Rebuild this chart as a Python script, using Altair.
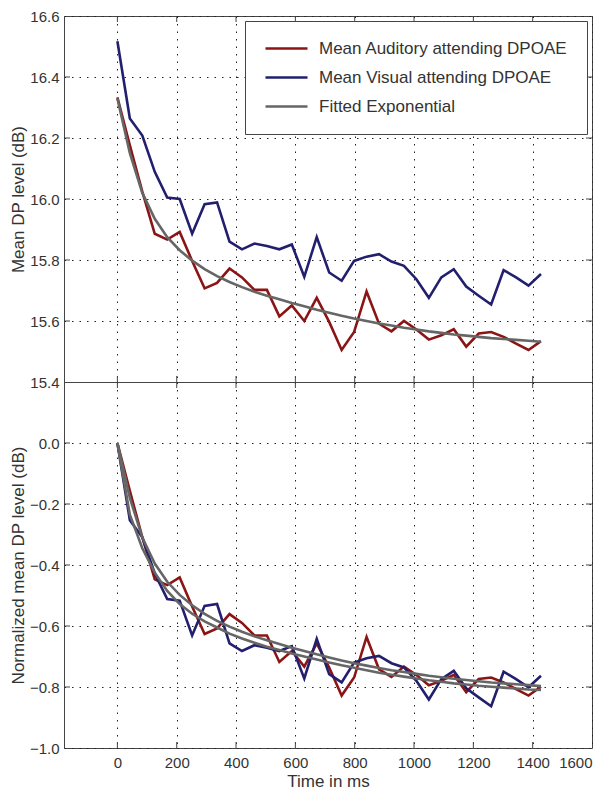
import altair as alt
import pandas as pd

times = [0, 42, 84, 126, 168, 210, 252, 294, 336, 378, 420, 462, 504, 546, 588,
         630, 672, 714, 756, 798, 840, 882, 924, 966, 1008, 1050, 1092, 1134,
         1176, 1218, 1260, 1302, 1344, 1386, 1428]

aud = [16.333, 16.176, 16.024, 15.886, 15.867, 15.892, 15.797, 15.707, 15.725,
       15.772, 15.743, 15.702, 15.702, 15.615, 15.651, 15.600, 15.676, 15.597,
       15.505, 15.564, 15.697, 15.591, 15.566, 15.600, 15.572, 15.539, 15.553,
       15.573, 15.516, 15.559, 15.564, 15.548, 15.526, 15.505, 15.534]

vis = [16.517, 16.264, 16.208, 16.089, 16.005, 16.000, 15.886, 15.983, 15.989,
       15.860, 15.835, 15.854, 15.846, 15.835, 15.851, 15.745, 15.875, 15.759,
       15.732, 15.797, 15.811, 15.819, 15.795, 15.781, 15.737, 15.676, 15.743,
       15.770, 15.713, 15.683, 15.654, 15.767, 15.743, 15.716, 15.754]

fit_top = [16.330, 16.150, 16.020, 15.935, 15.875, 15.832, 15.798, 15.770, 15.747,
           15.728, 15.711, 15.696, 15.683, 15.671, 15.659, 15.648, 15.637, 15.627,
           15.617, 15.608, 15.600, 15.592, 15.585, 15.578, 15.572, 15.566, 15.561,
           15.556, 15.552, 15.548, 15.544, 15.541, 15.538, 15.535, 15.532]

fit_aud_norm = [0.000, -0.180, -0.310, -0.395, -0.455, -0.498, -0.532, -0.560, -0.583,
                -0.602, -0.619, -0.634, -0.647, -0.659, -0.671, -0.682, -0.693, -0.703,
                -0.713, -0.722, -0.730, -0.738, -0.745, -0.751, -0.757, -0.763, -0.768,
                -0.773, -0.777, -0.781, -0.785, -0.788, -0.791, -0.794, -0.797]

fit_vis_norm = [0.000, -0.235, -0.345, -0.425, -0.485, -0.528, -0.560, -0.585, -0.605,
                -0.625, -0.641, -0.655, -0.668, -0.679, -0.690, -0.700, -0.710, -0.720,
                -0.729, -0.737, -0.745, -0.753, -0.760, -0.766, -0.772, -0.778, -0.783,
                -0.788, -0.792, -0.796, -0.799, -0.802, -0.805, -0.808, -0.810]

x_ticks = [0, 200, 400, 600, 800, 1000, 1200, 1400, 1600]
top_ticks = [15.4, 15.6, 15.8, 16.0, 16.2, 16.4, 16.6]
bot_ticks = [-1.0, -0.8, -0.6, -0.4, -0.2, 0.0]

AUD = "Mean Auditory attending DPOAE"
VIS = "Mean Visual attending DPOAE"
FIT = "Fitted Exponential"
names = [AUD, VIS, FIT]
colors = ["#8b1515", "#221f6e", "#666666"]
widths = [2.6, 2.6, 1.4]

n = len(times)
aud_n = [round(v - aud[0], 4) for v in aud]
vis_n = [round(v - vis[0], 4) for v in vis]

top_df = pd.DataFrame({
    "t": times * 3,
    "v": aud + vis + fit_top,
    "series": [AUD] * n + [VIS] * n + [FIT] * n,
    "grp": ["a"] * n + ["b"] * n + ["f"] * n,
})
bot_df = pd.DataFrame({
    "t": times * 4,
    "v": aud_n + vis_n + fit_aud_norm + fit_vis_norm,
    "series": [AUD] * n + [VIS] * n + [FIT] * n + [FIT] * n,
    "grp": ["a"] * n + ["b"] * n + ["fa"] * n + ["fb"] * n,
})

W, H = 528, 366
FONT = "Liberation Sans"
FRAME = "#444444"
TL = 6

xscale = alt.Scale(domain=[-180, 1600], nice=False, zero=False)
cscale = alt.Scale(domain=names, range=colors)
wscale = alt.Scale(domain=names, range=widths)


def legend_def():
    return alt.Legend(
        title=None, orient="top-right", offset=5, strokeColor=FRAME,
        fillColor="white", padding=19, symbolType="M-1,0H5", symbolSize=196,
        labelOffset=38, labelFont=FONT, labelFontSize=17, labelColor="#333333",
        rowPadding=11, labelLimit=400,
    )


def panel(df, ydom, yvals, ytitle, bottom, show_legend):
    yscale = alt.Scale(domain=ydom, nice=False, zero=False)
    if bottom:
        xaxis = alt.Axis(values=x_ticks, grid=True, ticks=False, domain=False,
                         format="d", labelFont=FONT, labelFontSize=15,
                         labelColor="#333333", labelPadding=7,
                         title="Time in ms", titleFont=FONT, titleFontSize=17,
                         titleFontWeight="normal", titleColor="#333333",
                         titlePadding=3)
    else:
        xaxis = alt.Axis(values=x_ticks, grid=True, ticks=False, domain=False,
                         labels=False, title=None, minExtent=0, maxExtent=0,
                         labelPadding=0)
    yaxis = alt.Axis(values=yvals, grid=True, ticks=False, domain=False,
                     format=".1f", labelFont=FONT, labelFontSize=15,
                     labelColor="#333333", labelPadding=5, title=ytitle,
                     titleFont=FONT, titleFontSize=17, titleFontWeight="normal",
                     titleColor="#333333", titlePadding=2)
    if show_legend:
        col = alt.Color("series:N", scale=cscale, legend=legend_def())
        sw = alt.StrokeWidth("series:N", scale=wscale, legend=legend_def())
    else:
        col = alt.Color("series:N", scale=cscale, legend=None)
        sw = alt.StrokeWidth("series:N", scale=wscale, legend=None)

    X = alt.X("t:Q", scale=xscale, axis=xaxis)
    Y = alt.Y("v:Q", scale=yscale, axis=yaxis)

    base = alt.Chart(df)
    data_lines = base.transform_filter(
        alt.FieldOneOfPredicate(field="grp", oneOf=["a", "b"])
    ).mark_line().encode(x=X, y=Y, color=col, strokeWidth=sw, detail="grp:N")
    fit_lines = base.transform_filter(
        alt.FieldOneOfPredicate(field="grp", oneOf=["f", "fa", "fb"])
    ).mark_line().encode(x=X, y=Y, color=col, strokeWidth=sw, detail="grp:N")

    xt = pd.DataFrame({"t": x_ticks[:-1]})
    inner_y = yvals[1:-1] if len(yvals) == 7 else yvals[1:]
    yt = pd.DataFrame({"v": inner_y})
    xt_top = alt.Chart(xt).mark_rule(color=FRAME).encode(
        x=X, y=alt.value(0), y2=alt.value(TL))
    xt_bot = alt.Chart(xt).mark_rule(color=FRAME).encode(
        x=X, y=alt.value(H), y2=alt.value(H - TL))
    yt_left = alt.Chart(yt).mark_rule(color=FRAME).encode(
        y=Y, x=alt.value(0), x2=alt.value(TL))
    yt_right = alt.Chart(yt).mark_rule(color=FRAME).encode(
        y=Y, x=alt.value(W - TL), x2=alt.value(W))

    return alt.layer(data_lines, fit_lines, xt_top, xt_bot, yt_left, yt_right).properties(
        width=W, height=H)


top = panel(top_df, [15.4, 16.6], top_ticks, "Mean DP level (dB)", False, True)
bot = panel(bot_df, [-1.0, 0.2], bot_ticks, "Normalized mean DP level (dB)", True, False)

chart = alt.vconcat(top, bot, spacing=0, bounds="flush").resolve_scale(
    color="independent", strokeWidth="independent"
).configure_view(
    stroke=FRAME, strokeWidth=1
).configure_axis(
    gridDash=[1.5, 6], gridColor="#222222", gridWidth=1, gridOpacity=1
).properties(
    padding={"left": 0, "top": 0, "right": 5, "bottom": 0},
    background="white",
)

chart.save("out.html", embed_options={"renderer": "svg", "actions": False})
